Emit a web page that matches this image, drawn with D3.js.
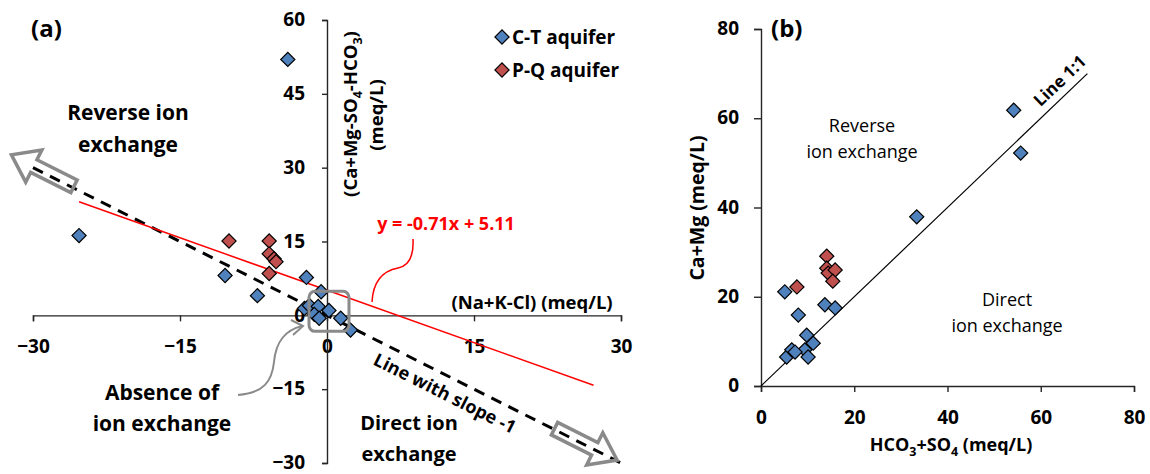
<!DOCTYPE html>
<html>
<head>
<meta charset="utf-8">
<script src="https://cdn.jsdelivr.net/npm/d3@7"></script>
<style>
  html, body { margin: 0; padding: 0; background: #fff; }
  svg { display: block; font-family: "Open Sans", Lato, sans-serif; }
  .tick text { font-weight: bold; font-size: 19px; fill: #000; }
</style>
</head>
<body>
<svg id="chart" width="1150" height="474"></svg>
<script>
// ---- Panel (a): (Na+K-Cl) vs (Ca+Mg-SO4-HCO3), meq/L ----
const ctXa = [-4.0, -25.3, -10.4, -7.1, -2.1, -0.6, -2.3, -1.8, -0.9, -1.3, -0.8, 0.2, 1.4, 2.4];
const ctYa = [52.0, 16.2, 8.1, 4.0, 7.7, 4.8, 1.4, 2.0, 1.8, 0.2, -0.6, 1.0, -0.6, -3.0];
const pqXa = [-10.0, -5.9, -5.9, -5.4, -5.2, -5.9];
const pqYa = [15.1, 15.1, 12.5, 11.5, 10.9, 8.5];
const ticksXa = [-30, -15, 0, 15, 30];
const ticksYa = [-30, -15, 0, 15, 30, 45, 60];
const trendSlope = -0.71, trendIntercept = 5.11;
const trendRange = [-25.3, 27.2];
const slopeLineRange = [-30, 30];

// ---- Panel (b): HCO3+SO4 vs Ca+Mg, meq/L ----
const ctXb = [5.1, 8.0, 9.8, 11.2, 9.4, 10.1, 5.5, 6.6, 7.3, 13.7, 15.9, 33.4, 54.2, 55.7];
const ctYb = [21.1, 15.9, 11.4, 9.6, 8.1, 6.5, 6.5, 8.1, 7.6, 18.2, 17.5, 37.9, 61.8, 52.2];
const pqXb = [7.7, 14.1, 14.1, 14.4, 15.9, 15.4];
const pqYb = [22.2, 29.1, 26.4, 25.3, 26.0, 23.5];
const ticksB = [0, 20, 40, 60, 80];
const oneToOneRange = [0, 70];

const seriesNames = ["C-T aquifer", "P-Q aquifer"];
const seriesColors = ["#4F81BD", "#C0504D"];

const svg = d3.select("#chart");
const zip = (xs, ys) => xs.map((x, i) => [x, ys[i]]);
const diamond = d3.symbol().type(d3.symbolSquare).size(100);

function drawDiamonds(g, pts, sx, sy, color) {
  g.selectAll(null).data(pts).enter().append("path")
    .attr("d", diamond)
    .attr("transform", d => `translate(${sx(d[0])},${sy(d[1])}) rotate(45)`)
    .attr("fill", color).attr("stroke", "#000").attr("stroke-width", 1.2);
}

function styleAxis(g) {
  g.selectAll(".domain").attr("stroke", "#262626").attr("stroke-width", 1.4);
  g.selectAll(".tick line").attr("stroke", "#262626").attr("stroke-width", 1.4);
  g.selectAll(".tick text").attr("font-family", "'Open Sans', sans-serif");
}

function label(g, x, y, lines, opts = {}) {
  const t = g.append("text")
    .attr("x", x).attr("y", y)
    .attr("text-anchor", opts.anchor || "middle")
    .attr("font-size", opts.size || 19)
    .attr("font-weight", opts.weight || "bold")
    .attr("fill", opts.color || "#000");
  lines.forEach((s, i) => t.append("tspan").attr("x", x).attr("dy", i ? (opts.lh || 32) : 0).text(s));
  return t;
}

// hollow block arrow; tip at (px,py), pointing along angle (degrees)
function blockArrow(g, px, py, angle) {
  const L = 70, sw = 7, hw = 18, hl = 25;
  const pts = [[0, 0], [-hl, -hw], [-hl, -sw], [-L, -sw], [-L, sw], [-hl, sw], [-hl, hw]];
  g.append("path")
    .attr("d", "M" + pts.map(p => p.join(",")).join("L") + "Z")
    .attr("transform", `translate(${px},${py}) rotate(${angle})`)
    .attr("fill", "none").attr("stroke", "#8a8a8a").attr("stroke-width", 3.5)
    .attr("stroke-linejoin", "miter");
}

// =================== Panel (a) ===================
const xA = d3.scaleLinear().domain([-30, 30]).range([33, 621]);
const yA = d3.scaleLinear().domain([-30, 60]).range([463, 20]);
const gA = svg.append("g");

const axXa = gA.append("g").attr("transform", `translate(0,${yA(0)})`)
  .call(d3.axisBottom(xA).tickValues(ticksXa).tickSize(6).tickPadding(18).tickFormat(d3.format("d")));
const axYa = gA.append("g").attr("transform", `translate(${xA(0)},0)`)
  .call(d3.axisLeft(yA).tickValues(ticksYa).tickSize(5).tickPadding(17).tickFormat(d3.format("d")));
[axXa, axYa].forEach(styleAxis);
axXa.selectAll(".tick text").attr("dy", "0.72em");
axYa.selectAll(".tick text").attr("dy", "0.3em");

// dashed reference line with slope -1
gA.append("line")
  .attr("x1", xA(slopeLineRange[0])).attr("y1", yA(-slopeLineRange[0]))
  .attr("x2", xA(slopeLineRange[1])).attr("y2", yA(-slopeLineRange[1]))
  .attr("stroke", "#000").attr("stroke-width", 3).attr("stroke-dasharray", "11,8");

// fitted trend line
gA.append("line")
  .attr("x1", xA(trendRange[0])).attr("y1", yA(trendSlope * trendRange[0] + trendIntercept))
  .attr("x2", xA(trendRange[1])).attr("y2", yA(trendSlope * trendRange[1] + trendIntercept))
  .attr("stroke", "#ff0000").attr("stroke-width", 1.5);

// direction of the -1 line in screen space
const dirAngle = Math.atan2(yA(-1) - yA(0), xA(1) - xA(0)) * 180 / Math.PI;
blockArrow(gA, xA(-32.2), yA(32.6), dirAngle + 180);
blockArrow(gA, xA(29.6), yA(-29.4), dirAngle);

drawDiamonds(gA, zip(ctXa, ctYa), xA, yA, seriesColors[0]);
drawDiamonds(gA, zip(pqXa, pqYa), xA, yA, seriesColors[1]);

// box around the origin
gA.append("rect")
  .attr("x", xA(0) - 18).attr("y", yA(0) - 24).attr("width", 40).attr("height", 40)
  .attr("rx", 6).attr("fill", "none").attr("stroke", "#8a8a8a").attr("stroke-width", 3);

// curved pointer from the "absence" note to the box
gA.append("path")
  .attr("d", "M238,395 C264,393 272,381 274,362 C276,340 286,330 302,326")
  .attr("fill", "none").attr("stroke", "#8a8a8a").attr("stroke-width", 2);
gA.append("path")
  .attr("d", "M291,320 L303,326 L293,335")
  .attr("fill", "none").attr("stroke", "#8a8a8a").attr("stroke-width", 2);

// red brace pointing from equation to trend line
gA.append("path")
  .attr("d", "M413,239 C414,258 408,266 398,268 C382,271 373,283 372,302")
  .attr("fill", "none").attr("stroke", "#ff0000").attr("stroke-width", 1.5);

label(gA, 31, 37, ["(a)"], { anchor: "start", size: 24 });
label(gA, 128, 120, ["Reverse ion", "exchange"], { size: 21 });
label(gA, 409, 430, ["Direct ion", "exchange"], { size: 20, lh: 31 });
label(gA, 162, 400, ["Absence of", "ion exchange"], { size: 21, lh: 31 });
label(gA, 446, 230, ["y = -0.71x + 5.11"], { size: 18, color: "#ff0000" });
label(gA, 532, 309, ["(Na+K-Cl) (meq/L)"], { size: 18.5 });

// "Line with slope -1" along the dashed line
label(gA, 0, 0, ["Line with slope -1"], { size: 18 })
  .attr("transform", `translate(442,399) rotate(${dirAngle})`);

// y-axis title with subscripts
{
  const t = gA.append("text").attr("transform", `translate(357,114) rotate(-90)`)
    .attr("text-anchor", "middle").attr("font-size", 18.5).attr("font-weight", "bold");
  t.append("tspan").text("(Ca+Mg-SO");
  t.append("tspan").attr("font-size", 12.5).attr("dy", 5).text("4");
  t.append("tspan").attr("dy", -5).text("-HCO");
  t.append("tspan").attr("font-size", 12.5).attr("dy", 5).text("3");
  t.append("tspan").attr("dy", -5).text(")");
  gA.append("text").attr("transform", `translate(383,115) rotate(-90)`)
    .attr("text-anchor", "middle").attr("font-size", 18.5).attr("font-weight", "bold").text("(meq/L)");
}

// legend
seriesNames.forEach((name, i) => {
  const y = 37 + i * 33;
  gA.append("path").attr("d", diamond).attr("transform", `translate(502,${y}) rotate(45)`)
    .attr("fill", seriesColors[i]).attr("stroke", "#000").attr("stroke-width", 1.2);
  label(gA, 512, y + 7, [name], { anchor: "start", size: 19 });
});

// =================== Panel (b) ===================
const xB = d3.scaleLinear().domain([0, 80]).range([761, 1134]);
const yB = d3.scaleLinear().domain([0, 80]).range([386, 29]);
const gB = svg.append("g");

const axXb = gB.append("g").attr("transform", `translate(0,${yB(0)})`)
  .call(d3.axisBottom(xB).tickValues(ticksB).tickSize(6).tickPadding(18).tickFormat(d3.format("d")));
const axYb = gB.append("g").attr("transform", `translate(${xB(0)},0)`)
  .call(d3.axisLeft(yB).tickValues(ticksB).tickSize(7).tickPadding(15).tickFormat(d3.format("d")));
[axXb, axYb].forEach(styleAxis);
axXb.selectAll(".tick text").attr("dy", "0.72em");
axYb.selectAll(".tick text").attr("dy", "0.3em");

// 1:1 line
gB.append("line")
  .attr("x1", xB(oneToOneRange[0])).attr("y1", yB(oneToOneRange[0]))
  .attr("x2", xB(oneToOneRange[1])).attr("y2", yB(oneToOneRange[1]))
  .attr("stroke", "#000").attr("stroke-width", 1.2);

drawDiamonds(gB, zip(ctXb, ctYb), xB, yB, seriesColors[0]);
drawDiamonds(gB, zip(pqXb, pqYb), xB, yB, seriesColors[1]);

label(gB, 771, 37, ["(b)"], { anchor: "start", size: 24 });
label(gB, 862, 132, ["Reverse", "ion exchange"], { size: 18, weight: "normal", lh: 26 });
label(gB, 1007, 306, ["Direct", "ion exchange"], { size: 18, weight: "normal", lh: 26 });

{
  const ang = Math.atan2(yB(1) - yB(0), xB(1) - xB(0)) * 180 / Math.PI;
  label(gB, 0, 0, ["Line 1:1"], { size: 17 })
    .attr("transform", `translate(1064,85) rotate(${ang})`);
}

// axis titles
{
  const t = gB.append("text").attr("x", 951).attr("y", 451)
    .attr("text-anchor", "middle").attr("font-size", 18).attr("font-weight", "bold");
  t.append("tspan").text("HCO");
  t.append("tspan").attr("font-size", 12.5).attr("dy", 5).text("3");
  t.append("tspan").attr("dy", -5).text("+SO");
  t.append("tspan").attr("font-size", 12.5).attr("dy", 5).text("4");
  t.append("tspan").attr("dy", -5).text(" (meq/L)");
  gB.append("text").attr("transform", "translate(704,208) rotate(-90)")
    .attr("text-anchor", "middle").attr("font-size", 19.5).attr("font-weight", "bold")
    .text("Ca+Mg (meq/L)");
}
</script>
</body>
</html>
